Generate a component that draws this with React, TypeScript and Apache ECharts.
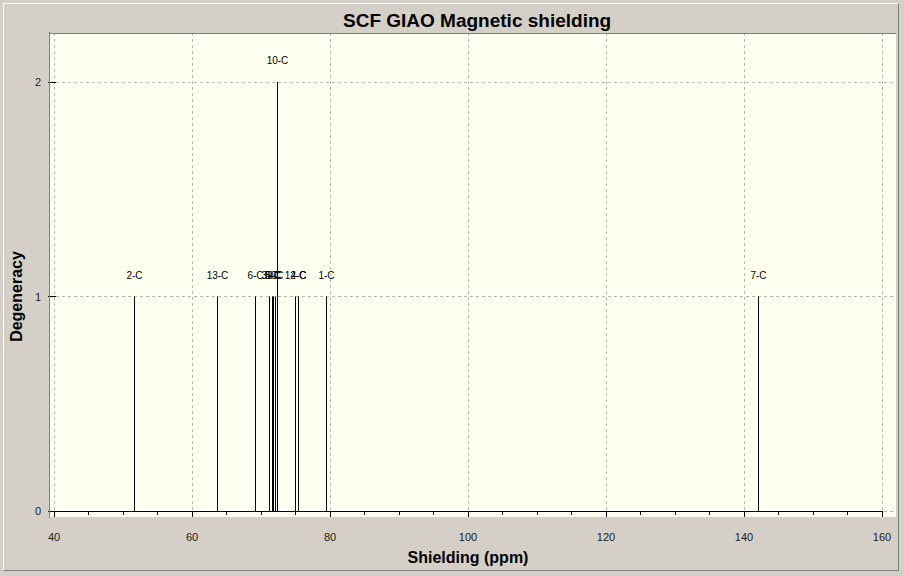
import React, { useEffect, useRef } from "react";
import * as echarts from "echarts";

const shieldValues = [51.59, 63.62, 69.2, 71.09, 71.59, 71.81, 72.03, 72.32, 74.93, 75.36, 79.42, 142.03];
const degeneracy = [1, 1, 1, 1, 1, 1, 1, 2, 1, 1, 1, 1];
const atomLabels = ["2-C", "13-C", "6-C", "3-C", "5-C", "8-C", "9-C", "10-C", "12-C", "4-C", "1-C", "7-C"];
const xTicks = [40, 60, 80, 100, 120, 140, 160];
const yTicks = [0, 1, 2];

const FONT = "Liberation Sans";

export default function App() {
  const ref = useRef<HTMLDivElement>(null);
  useEffect(() => {
    document.body.style.margin = "0";
    const chart = echarts.init(ref.current!, null, { renderer: "svg" });
    const dashed = { color: "#b8b8b8", type: [3, 3] as any, width: 1 };
    const option: any = {
      animation: false,
      backgroundColor: "#d4d0c8",
      title: {
        text: "SCF GIAO Magnetic shielding",
        left: 338,
        top: 6,
        textStyle: { fontFamily: FONT, fontSize: 19, fontWeight: "bold", color: "#000" },
      },
      graphic: [
        { type: "polyline", shape: { points: [[3.5, 570.5], [3.5, 3.5], [898.5, 3.5]] }, style: { stroke: "#ffffff", fill: null, lineWidth: 1 } },
        { type: "polyline", shape: { points: [[3.5, 570.5], [898.5, 570.5], [898.5, 3.5]] }, style: { stroke: "#808080", fill: null, lineWidth: 1 } },
        { type: "polyline", shape: { points: [[49.5, 517], [49.5, 33.5], [896, 33.5]] }, style: { stroke: "#808080", fill: null, lineWidth: 1 }, z: 10 },
      ],
      grid: [
        { left: 49, right: 8, top: 33, bottom: 59, show: true, backgroundColor: "#fffff2", borderWidth: 0 },
        { left: 54, right: 22, top: 33, bottom: 59 },
        { left: 49, right: 8, top: 82, bottom: 65 },
      ],
      xAxis: [
        { gridIndex: 0, type: "value", min: 0, max: 1, show: false },
        {
          gridIndex: 1,
          type: "value",
          min: xTicks[0],
          max: xTicks[xTicks.length - 1],
          interval: 20,
          position: "bottom",
          offset: 4,
          axisLine: { show: true, lineStyle: { color: "#000", width: 1 } },
          axisTick: { show: true, length: 6, lineStyle: { color: "#000" } },
          minorTick: { show: true, splitNumber: 4, length: 4, lineStyle: { color: "#000" } },
          axisLabel: { fontFamily: FONT, fontSize: 11, color: "#222", margin: 10 },
          splitLine: { show: true, lineStyle: dashed },
          name: "Shielding (ppm)",
          nameLocation: "middle",
          nameGap: 28,
          nameTextStyle: { fontFamily: FONT, fontSize: 16, fontWeight: "bold", color: "#000" },
        },
        { gridIndex: 2, type: "value", min: 0, max: 1, show: false },
      ],
      yAxis: [
        {
          gridIndex: 0,
          type: "value",
          min: 0,
          max: 1,
          offset: 2,
          axisLine: { show: true, lineStyle: { color: "#000", width: 1 } },
          axisTick: { show: false },
          axisLabel: { show: false },
          splitLine: { show: false },
        },
        { gridIndex: 1, type: "value", min: -0.028, max: 2.228, show: false },
        {
          gridIndex: 2,
          type: "value",
          min: yTicks[0],
          max: yTicks[yTicks.length - 1],
          interval: 1,
          offset: 2,
          axisLine: { show: false },
          axisTick: { show: true, length: 8, lineStyle: { color: "#000" } },
          axisLabel: { fontFamily: FONT, fontSize: 11, color: "#222", margin: 13 },
          splitLine: { show: true, lineStyle: dashed },
          name: "Degeneracy",
          nameLocation: "middle",
          nameGap: 24,
          nameTextStyle: { fontFamily: FONT, fontSize: 16, fontWeight: "bold", color: "#000" },
        },
      ],
      series: [
        {
          type: "custom",
          xAxisIndex: 1,
          yAxisIndex: 1,
          data: shieldValues.map((v, i) => [v, degeneracy[i]]),
          renderItem: (params: any, api: any) => {
            const x = api.value(0);
            const y = api.value(1);
            const base = api.coord([x, 0]);
            const top = api.coord([x, y]);
            const px = Math.round(base[0]) + 0.5;
            return {
              type: "group",
              children: [
                { type: "line", shape: { x1: px, y1: base[1], x2: px, y2: top[1] }, style: { stroke: "#000", lineWidth: 1 } },
                {
                  type: "text",
                  x: px,
                  y: top[1] - 21,
                  style: { text: atomLabels[params.dataIndex], fontFamily: FONT, fontSize: 10, fill: "#000", align: "center", verticalAlign: "middle" },
                },
              ],
            };
          },
        },
      ],
    };
    chart.setOption(option);
    return () => chart.dispose();
  }, []);
  return <div ref={ref} style={{ width: 904, height: 576 }} />;
}
